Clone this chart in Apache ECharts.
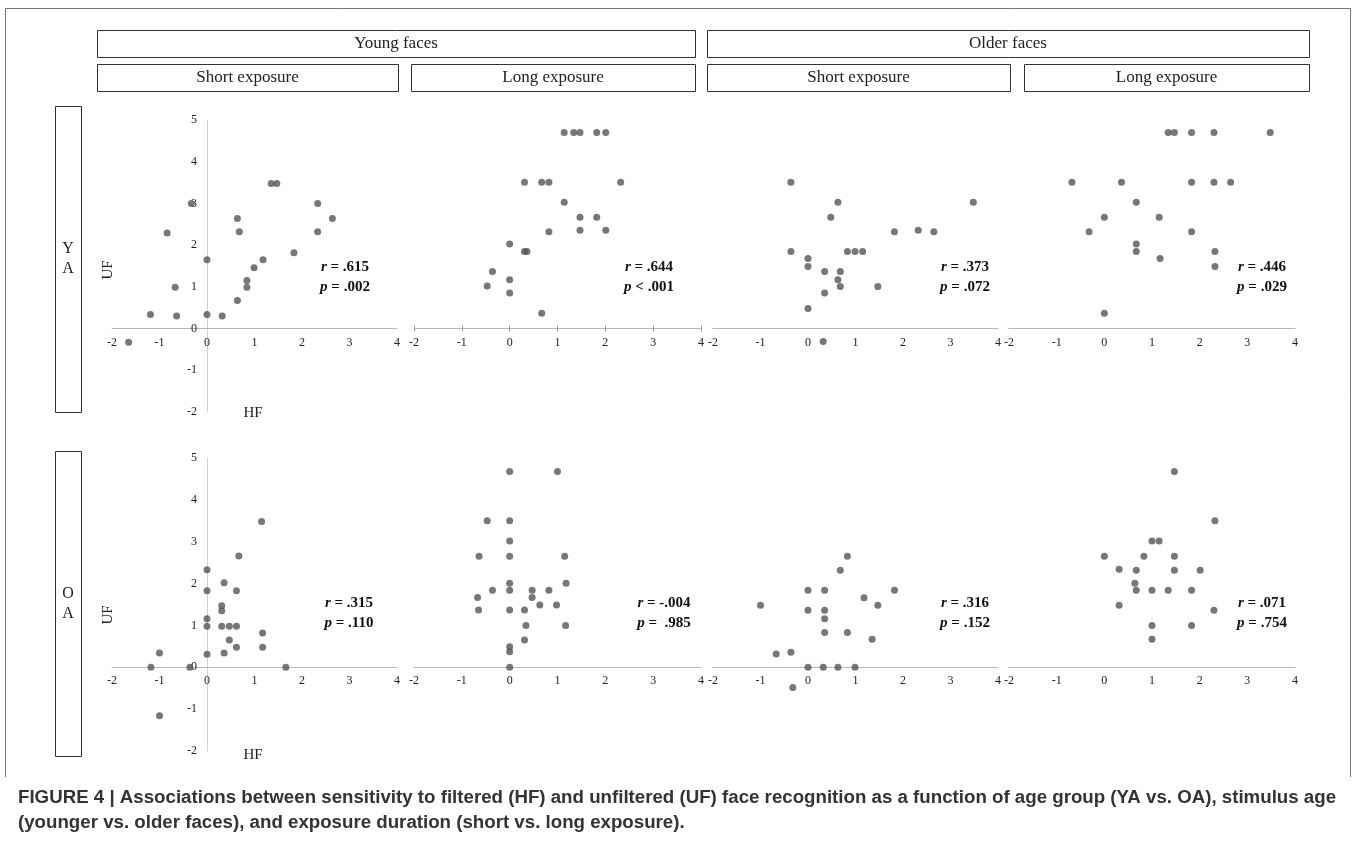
<!DOCTYPE html>
<html><head><meta charset="utf-8">
<script src="https://cdn.jsdelivr.net/npm/echarts@6/dist/echarts.min.js"></script>
<style>html,body{margin:0;padding:0;background:#fff}#c{width:1357px;height:854px}</style>
</head><body><div id="c"></div>
<script>
// ---------- data ----------
const xTicks = [-2, -1, 0, 1, 2, 3, 4];
const yTicks = [-2, -1, 0, 1, 2, 3, 4, 5];
const stimulusGroups = ['Young faces', 'Older faces'];
const exposures = ['Short exposure', 'Long exposure'];
const ageGroups = [['Y', 'A'], ['O', 'A']];
const xName = 'HF';
const yName = 'UF';

const yaYoungShort = [[-1.65,-0.33],[-1.19,0.34],[-0.84,2.29],[-0.67,0.99],[-0.64,0.30],[-0.33,3.0],[0,1.65],[0,0.34],[0.32,0.30],[0.64,2.64],[0.68,2.32],[0.64,0.67],[0.84,1.15],[0.84,0.99],[0.99,1.46],[1.18,1.65],[1.35,3.48],[1.47,3.48],[1.83,1.82],[2.33,3.0],[2.33,2.32],[2.64,2.64]];
const yaYoungLong = [[1.14,4.70],[1.34,4.70],[1.47,4.70],[1.82,4.70],[2.01,4.70],[0.31,3.51],[0.67,3.51],[0.82,3.51],[2.32,3.51],[1.14,3.03],[1.47,2.67],[1.82,2.67],[0.82,2.32],[1.47,2.36],[2.01,2.36],[0,2.03],[0.31,1.85],[0.36,1.85],[-0.36,1.37],[0,1.17],[-0.47,1.02],[0,0.85],[0.67,0.37]];
const yaOlderShort = [[-0.36,3.51],[0.63,3.03],[3.48,3.03],[0.48,2.67],[1.82,2.32],[2.32,2.36],[2.65,2.32],[-0.36,1.85],[0.83,1.85],[0.99,1.85],[1.15,1.85],[0,1.68],[0,1.49],[0.35,1.37],[0.68,1.37],[0.63,1.17],[0.68,1.01],[1.47,1.01],[0.35,0.85],[0,0.48],[0.32,-0.31]];
const yaOlderLong = [[1.34,4.70],[1.47,4.70],[1.83,4.70],[2.30,4.70],[3.48,4.70],[-0.68,3.51],[0.36,3.51],[1.83,3.51],[2.30,3.51],[2.65,3.51],[0.67,3.03],[0,2.67],[1.15,2.67],[-0.32,2.32],[1.83,2.32],[0.67,2.03],[0.67,1.85],[1.17,1.68],[2.32,1.85],[2.32,1.49],[0,0.37]];
const oaYoungShort = [[1.15,3.48],[0.67,2.66],[0,2.33],[0.36,2.02],[0,1.83],[0.62,1.83],[0.31,1.47],[0.31,1.35],[0,1.16],[0,0.98],[0.31,0.98],[0.47,0.98],[0.62,0.98],[1.17,0.82],[0.47,0.65],[0.62,0.48],[1.17,0.48],[-1.0,0.34],[0,0.31],[0.36,0.34],[-1.18,0],[-0.36,0],[1.66,0],[-1.0,-1.16]];
const oaYoungLong = [[0,4.68],[1.0,4.68],[-0.47,3.50],[0,3.50],[0,3.02],[-0.64,2.65],[0,2.65],[1.15,2.65],[0,2.01],[1.18,2.01],[-0.36,1.84],[0,1.84],[0.47,1.84],[0.82,1.84],[-0.67,1.67],[0.47,1.67],[-0.65,1.37],[0,1.37],[0.31,1.37],[0.63,1.49],[0.98,1.49],[0.34,1.0],[1.17,1.0],[0.31,0.65],[0,0.49],[0,0.37],[0,0]];
const oaOlderShort = [[0.83,2.65],[0.68,2.32],[0,1.84],[0.35,1.84],[1.82,1.84],[1.18,1.66],[-1.0,1.48],[1.47,1.48],[0,1.36],[0.35,1.36],[0.35,1.16],[0.35,0.83],[0.83,0.83],[1.35,0.67],[-0.67,0.32],[-0.36,0.36],[0,0],[0.32,0],[0.63,0],[0.99,0],[-0.32,-0.48]];
const oaOlderLong = [[1.47,4.68],[2.32,3.50],[1.0,3.02],[1.15,3.02],[0,2.65],[0.83,2.65],[1.47,2.65],[0.31,2.34],[0.67,2.32],[1.47,2.32],[2.01,2.32],[0.64,2.01],[0.67,1.84],[1.0,1.84],[1.34,1.84],[1.83,1.84],[0.31,1.48],[2.30,1.36],[1.0,1.0],[1.83,1.0],[1.0,0.67]];

const statR = ['.615', '.644', '.373', '.446', '.315', '-.004', '.316', '.071'];
const statP = ['= .002', '< .001', '= .072', '= .029', '= .110', '=  .985', '= .152', '= .754'];
const captionLines = [
  'FIGURE 4 | Associations between sensitivity to filtered (HF) and unfiltered (UF) face recognition as a function of age group (YA vs. OA), stimulus age',
  '(younger vs. older faces), and exposure duration (short vs. long exposure).'
];

// ---------- layout ----------
const panels = [yaYoungShort, yaYoungLong, yaOlderShort, yaOlderLong, oaYoungShort, oaYoungLong, oaOlderShort, oaOlderLong];
const colLeft = [112, 414, 713, 1009];
const colWidth = [285, 287, 285, 286];
const rowTop = [120, 458];
const rowHeight = [292, 293];
const statX = [345, 649, 965, 1262, 349, 664, 965, 1262];
const statY = [[267, 287], [603, 623]];
const SERIF = 'Liberation Serif';

const xMin = xTicks[0], xMax = xTicks[xTicks.length - 1];
const yMin = yTicks[0], yMax = yTicks[yTicks.length - 1];

const grid = [], xAxis = [], yAxis = [], series = [];
panels.forEach((d, i) => {
  const r = Math.floor(i / 4), c = i % 4;
  grid.push({left: colLeft[c], top: rowTop[r], width: colWidth[c], height: rowHeight[r], containLabel: false});
  const first = c === 0;
  // shift axes onto the zero lines
  const xOff = -rowHeight[r] * (0 - yMin) / (yMax - yMin);
  const yOff = -colWidth[c] * (0 - xMin) / (xMax - xMin);
  xAxis.push({
    type: 'value', gridIndex: i, min: xMin, max: xMax, interval: 1, position: 'bottom', offset: xOff,
    axisLine: {onZero: false, lineStyle: {color: '#b8b8b8', width: 1}},
    axisTick: {show: i === 1, length: 3, lineStyle: {color: '#999'}},
    splitLine: {show: false},
    axisLabel: {fontFamily: SERIF, fontSize: 12, color: '#222', margin: 8}
  });
  yAxis.push({
    type: 'value', gridIndex: i, min: yMin, max: yMax, interval: 1, position: 'left', offset: yOff,
    axisLine: {show: first, onZero: false, lineStyle: {color: '#d0d0d0', width: 1}},
    axisTick: {show: false},
    splitLine: {show: false},
    axisLabel: {show: first, fontFamily: SERIF, fontSize: 12, color: '#222', margin: 10}
  });
  series.push({
    type: 'scatter', xAxisIndex: i, yAxisIndex: i, data: d, symbolSize: 7,
    itemStyle: {color: '#555555'}, silent: true, animation: false
  });
});
// upward half of the ticks on panel 2 axis
xAxis.push({
  type: 'value', gridIndex: 1, position: 'top', min: xMin, max: xMax, interval: 1,
  offset: -rowHeight[0] * yMax / (yMax - yMin),
  axisLine: {show: false, onZero: false}, axisTick: {show: true, length: 3, lineStyle: {color: '#999'}},
  axisLabel: {show: false}, splitLine: {show: false}
});

// ---------- graphic ----------
const g = [];
const txt = (x, y, text, opt) => g.push({type: 'text', x, y, style: Object.assign({text, fill: '#222', font: '17px ' + SERIF, align: 'center', verticalAlign: 'middle'}, opt || {})});
const box = (x1, y1, x2, y2) => g.push({type: 'rect', shape: {x: x1 + 0.5, y: y1 + 0.5, width: x2 - x1, height: y2 - y1}, style: {fill: 'none', stroke: '#333', lineWidth: 1}});

g.push({type: 'polyline', shape: {points: [[5.5, 777], [5.5, 8.5], [1350.5, 8.5], [1350.5, 777]]}, style: {fill: 'none', stroke: '#777', lineWidth: 1}});

const topBoxes = [[97, 695], [707, 1309]];
const subBoxes = [[97, 398], [411, 695], [707, 1010], [1024, 1309]];
topBoxes.forEach((b, i) => { box(b[0], 30, b[1], 57); txt((b[0] + b[1]) / 2, 44, stimulusGroups[i]); });
subBoxes.forEach((b, i) => { box(b[0], 64, b[1], 91); txt((b[0] + b[1]) / 2, 78, exposures[i % 2]); });

const rowBoxes = [[106, 412], [451, 756]];
rowBoxes.forEach((b, i) => {
  box(55, b[0], 81, b[1]);
  const mid = (b[0] + b[1]) / 2;
  txt(68, mid - 10, ageGroups[i][0], {font: '16px ' + SERIF});
  txt(68, mid + 10, ageGroups[i][1], {font: '16px ' + SERIF});
});

[[108, 270, 253, 413], [108, 615, 253, 755]].forEach(p => {
  g.push({type: 'text', x: p[0], y: p[1], rotation: Math.PI / 2, style: {text: yName, fill: '#222', font: '15px ' + SERIF, align: 'center', verticalAlign: 'middle'}});
  txt(p[2], p[3], xName, {font: '15px ' + SERIF});
});

const rich = {i: {fontFamily: SERIF, fontSize: 15, fontStyle: 'italic', fontWeight: 'bold', fill: '#111'}, b: {fontFamily: SERIF, fontSize: 15, fontWeight: 'bold', fill: '#111'}};
statR.forEach((v, i) => {
  const r = Math.floor(i / 4);
  g.push({type: 'text', x: statX[i], y: statY[r][0], style: {text: '{i|r}{b| = ' + v + '}', rich, align: 'center', verticalAlign: 'middle'}});
  g.push({type: 'text', x: statX[i], y: statY[r][1], style: {text: '{i|p}{b| ' + statP[i] + '}', rich, align: 'center', verticalAlign: 'middle'}});
});

captionLines.forEach((t, i) => {
  g.push({type: 'text', x: 18, y: 798 + i * 25, style: {text: t, fill: '#333', font: 'bold 18.7px "Liberation Sans"', align: 'left', verticalAlign: 'middle'}});
});

const chart = echarts.init(document.getElementById('c'), null, {renderer: 'canvas'});
chart.setOption({animation: false, backgroundColor: '#fff', grid, xAxis, yAxis, series, graphic: g});
</script></body></html>
